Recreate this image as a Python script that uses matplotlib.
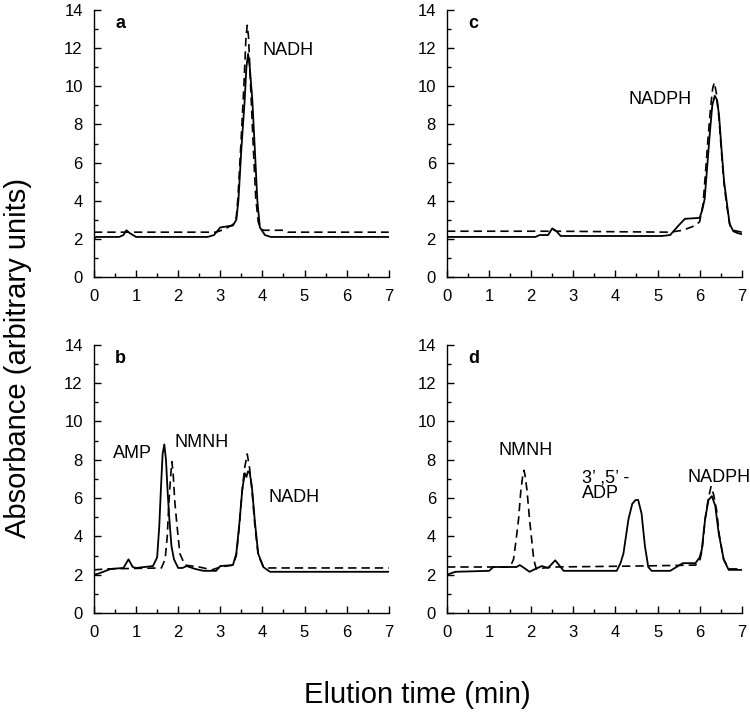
import matplotlib
matplotlib.use("Agg")
import matplotlib.pyplot as plt
from matplotlib.ticker import MultipleLocator

plt.rcParams['font.family'] = ['Liberation Sans', 'DejaVu Sans']

# panel a
t_a_solid = [0, 0.05, 0.6, 0.7, 0.77, 0.85, 1.0, 2.7, 2.85, 3.0, 3.3, 3.38, 3.43, 3.5, 3.58,
             3.62, 3.66, 3.70, 3.76, 3.82, 3.88, 3.94, 4.06, 4.2, 7.0]
a_solid = [2.0, 2.1, 2.1, 2.2, 2.45, 2.3, 2.1, 2.1, 2.2, 2.6, 2.7, 3.0, 4.0, 6.7, 9.3,
           11.0, 11.7, 11.0, 9.3, 6.7, 4.0, 2.6, 2.2, 2.1, 2.1]
t_a_dash = [0, 2.9, 3.1, 3.3, 3.38, 3.42, 3.49, 3.56, 3.61, 3.64, 3.67, 3.72, 3.78, 3.84,
            3.9, 3.96, 4.05, 4.5, 4.6, 7.0]
a_dash = [2.35, 2.35, 2.5, 2.75, 3.1, 4.2, 7.0, 10.0, 12.6, 13.2, 12.6, 10.0, 7.0, 4.2,
          2.9, 2.5, 2.45, 2.45, 2.35, 2.35]

# panel b
t_b_solid = [0, 0.1, 0.4, 0.7, 0.82, 0.92, 1.0, 1.4, 1.5, 1.55, 1.59, 1.63, 1.67, 1.71, 1.75,
             1.79, 1.84, 1.9, 2.0, 2.1, 2.2, 2.4, 2.6, 2.9, 3.0, 3.3, 3.38, 3.45, 3.52, 3.58,
             3.62, 3.66, 3.7, 3.75, 3.82, 3.9, 4.02, 4.18, 7.0]
b_solid = [2.0, 2.05, 2.3, 2.35, 2.8, 2.4, 2.35, 2.45, 2.9, 4.5, 6.5, 8.3, 8.8, 8.0, 6.3,
           4.9, 3.5, 2.8, 2.35, 2.35, 2.45, 2.3, 2.2, 2.2, 2.45, 2.5, 3.1, 4.6, 6.4, 7.3,
           7.1, 7.4, 7.3, 6.6, 4.8, 3.1, 2.4, 2.15, 2.15]
t_b_dash = [0, 0.3, 1.6, 1.69, 1.74, 1.78, 1.82, 1.85, 1.88, 1.92, 1.97, 2.04, 2.16, 2.5,
            2.8, 3.0, 3.3, 3.38, 3.45, 3.52, 3.58, 3.64, 3.7, 3.76, 3.82, 3.9, 4.02, 4.15, 7.0]
b_dash = [2.25, 2.3, 2.35, 2.8, 4.0, 5.8, 7.1, 7.9, 7.3, 5.8, 4.6, 3.1, 2.5, 2.4,
          2.25, 2.4, 2.5, 3.0, 4.5, 6.4, 7.6, 8.3, 7.5, 6.2, 4.6, 3.0, 2.45, 2.35, 2.35]

# panel c
t_c_solid = [0, 2.1, 2.2, 2.4, 2.5, 2.6, 2.7, 5.1, 5.3, 5.5, 5.65, 6.0, 6.06, 6.12, 6.18,
             6.24, 6.3, 6.36, 6.41, 6.46, 6.52, 6.58, 6.64, 6.71, 6.8, 6.9, 7.0]
c_solid = [2.1, 2.1, 2.2, 2.2, 2.55, 2.4, 2.15, 2.15, 2.2, 2.7, 3.05, 3.1, 3.5, 4.1, 5.8,
           7.5, 9.0, 9.5, 9.3, 8.5, 6.7, 5.0, 4.0, 2.8, 2.4, 2.3, 2.25]
t_c_dash = [0, 2.4, 2.5, 2.6, 5.3, 5.6, 5.9, 6.0, 6.08, 6.14, 6.2, 6.26, 6.31, 6.35, 6.4,
            6.46, 6.52, 6.58, 6.64, 6.72, 6.8, 7.0]
c_dash = [2.4, 2.4, 2.5, 2.4, 2.35, 2.45, 2.7, 2.9, 3.8, 5.5, 7.3, 8.9, 9.9, 10.2, 9.6,
          8.3, 6.5, 4.9, 3.8, 2.7, 2.45, 2.35]

# panel d
t_d_solid = [0, 0.2, 1.0, 1.1, 1.65, 1.73, 1.8, 1.96, 2.1, 2.25, 2.4, 2.57, 2.77, 4.03,
             4.12, 4.19, 4.31, 4.4, 4.48, 4.54, 4.62, 4.7, 4.78, 4.86, 5.3, 5.6, 5.9, 6.0,
             6.05, 6.13, 6.21, 6.29, 6.37, 6.45, 6.57, 6.69, 7.0]
d_solid = [2.0, 2.15, 2.2, 2.4, 2.4, 2.5, 2.4, 2.15, 2.3, 2.45, 2.35, 2.75, 2.2, 2.2,
           2.6, 3.1, 4.9, 5.7, 5.9, 5.9, 5.2, 3.5, 2.4, 2.2, 2.2, 2.6, 2.6, 2.9,
           3.3, 4.9, 5.9, 6.1, 5.6, 4.2, 2.8, 2.25, 2.25]
t_d_dash = [0, 1.5, 1.58, 1.64, 1.7, 1.75, 1.8, 1.83, 1.86, 1.9, 1.96, 2.06, 2.12, 2.5,
            4.5, 5.9, 6.0, 6.06, 6.13, 6.2, 6.27, 6.33, 6.4, 6.47, 6.57, 6.69, 7.0]
d_dash = [2.4, 2.4, 2.8, 3.8, 4.9, 6.3, 7.2, 7.45, 7.1, 6.4, 4.9, 2.8, 2.3, 2.4,
          2.45, 2.5, 2.7, 3.3, 4.9, 5.9, 6.6, 6.2, 5.4, 4.0, 2.8, 2.3, 2.3]

# labels: (text, x, y)
labels_a = [("NADH", 4.0, 11.9)]
labels_b = [("AMP", 0.45, 8.35), ("NMNH", 1.92, 8.9), ("NADH", 4.15, 6.05)]
labels_c = [("NADPH", 4.3, 9.3)]
labels_d = [("NMNH", 1.23, 8.5), ("3’ ,5’ -", 3.2, 7.05), ("ADP", 3.2, 6.25), ("NADPH", 5.7, 7.05)]

fig = plt.figure(figsize=(7.5, 7.15), dpi=100)

panels = [
    ("a", [0.1253, 0.6126, 0.393, 0.3734], t_a_solid, a_solid, t_a_dash, a_dash, labels_a),
    ("c", [0.596, 0.6126, 0.393, 0.3734], t_c_solid, c_solid, t_c_dash, c_dash, labels_c),
    ("b", [0.1253, 0.1427, 0.393, 0.375], t_b_solid, b_solid, t_b_dash, b_dash, labels_b),
    ("d", [0.596, 0.1427, 0.393, 0.375], t_d_solid, d_solid, t_d_dash, d_dash, labels_d),
]

for letter, rect, ts, ys, td, yd, labs in panels:
    ax = fig.add_axes(rect)
    ax.plot(ts, ys, color='black', lw=1.3)
    ax.plot(td, yd, color='black', lw=1.2, linestyle=(0, (5, 3)))
    ax.set_xlim(0, 7)
    ax.set_ylim(0, 14)
    ax.xaxis.set_major_locator(MultipleLocator(1))
    ax.xaxis.set_minor_locator(MultipleLocator(0.5))
    ax.yaxis.set_major_locator(MultipleLocator(2))
    ax.yaxis.set_minor_locator(MultipleLocator(1))
    ax.tick_params(which='both', direction='in', width=1.0, labelsize=12)
    ax.tick_params(axis='x', pad=9)
    ax.tick_params(axis='y', pad=8)
    ax.tick_params(which='major', length=5)
    ax.tick_params(which='minor', length=3)
    ax.spines['top'].set_visible(False)
    ax.spines['right'].set_visible(False)
    ax.spines['left'].set_linewidth(1.0)
    ax.spines['bottom'].set_linewidth(1.0)
    ax.text(0.5, 13.3, letter, fontsize=13, fontweight='bold', va='center', ha='left')
    for txt, x, y in labs:
        ax.text(x, y, txt, fontsize=13, va='center', ha='left')

fig.text(0.024, 0.5, "Absorbance (arbitrary units)", rotation=90, fontsize=21,
         ha='center', va='center')
fig.text(0.557, 0.028, "Elution time (min)", fontsize=21, ha='center', va='center')

fig.savefig("out.png", dpi=100)
